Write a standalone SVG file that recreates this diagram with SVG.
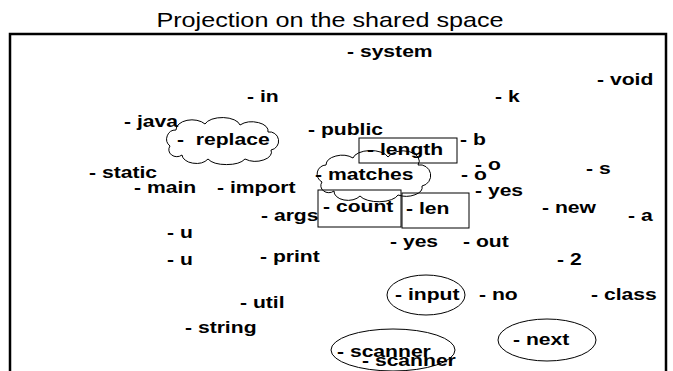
<svg xmlns="http://www.w3.org/2000/svg" width="673" height="371" viewBox="0 0 673 371">
<style>
.t{font-family:"Liberation Sans",Arial,sans-serif;font-weight:bold;font-size:16.5px;fill:#000}
.title{font-family:"Liberation Sans",Arial,sans-serif;font-size:20px;fill:#000}
.sh{fill:none;stroke:#000;stroke-width:1}
</style>
<rect width="673" height="371" fill="#fff"/>
<text class="title" transform="translate(330,27) scale(1.26,1)" text-anchor="middle">Projection on the shared space</text>
<path d="M10,371 V34 H666 V371" fill="none" stroke="#000" stroke-width="2.5"/>
<g id="connectors"/>
<g id="n-system"><text class="t" transform="translate(347,57) scale(1.28,1)">- system</text></g>
<g id="n-void"><text class="t" transform="translate(597,85) scale(1.28,1)">- void</text></g>
<g id="n-in"><text class="t" transform="translate(247,102) scale(1.28,1)">- in</text></g>
<g id="n-k"><text class="t" transform="translate(495,102) scale(1.28,1)">- k</text></g>
<g id="n-java"><text class="t" transform="translate(124,127) scale(1.28,1)">- java</text></g>
<g id="n-replace"><path class="sh" d="M170,146 A9,9 0 0 1 176,130 A16,10 0 0 1 205,124 A18,9 0 0 1 240,125 A16,9 0 0 1 268,132 A9,9 0 0 1 271,150 A16,9 0 0 1 245,159 A20,9 0 0 1 208,159 A14,9 0 0 1 182,155 A8,7 0 0 1 170,146 Z"/><text class="t" transform="translate(177,145) scale(1.28,1)" xml:space="preserve">-  replace</text></g>
<g id="n-public"><text class="t" transform="translate(308,135) scale(1.28,1)">- public</text></g>
<g id="n-length"><rect class="sh" x="359" y="138" width="98" height="25"/><text class="t" transform="translate(367,155) scale(1.28,1)">- length</text></g>
<g id="n-b"><text class="t" transform="translate(460,145) scale(1.28,1)">- b</text></g>
<g id="n-o1"><text class="t" transform="translate(475,170) scale(1.28,1)">- o</text></g>
<g id="n-o2"><text class="t" transform="translate(461,180) scale(1.28,1)">- o</text></g>
<g id="n-s"><text class="t" transform="translate(586,174) scale(1.28,1)">- s</text></g>
<g id="n-static"><text class="t" transform="translate(89,178) scale(1.28,1)">- static</text></g>
<g id="n-matches"><path class="sh" d="M322,182 A9,9 0 0 1 326,165 A16,10 0 0 1 353,158 A18,9 0 0 1 388,157 A16,10 0 0 1 418,165 A10,10 0 0 1 422,186 A16,9 0 0 1 398,195 A20,9 0 0 1 360,196 A14,9 0 0 1 334,191 A8,7 0 0 1 322,182 Z"/><text class="t" transform="translate(315,180) scale(1.28,1)">- matches</text></g>
<g id="n-yes1"><text class="t" transform="translate(475,196) scale(1.28,1)">- yes</text></g>
<g id="n-main"><text class="t" transform="translate(134,193) scale(1.28,1)">- main</text></g>
<g id="n-import"><text class="t" transform="translate(217,193) scale(1.28,1)">- import</text></g>
<g id="n-count"><rect class="sh" x="318" y="190" width="83" height="37"/><text class="t" transform="translate(323,212) scale(1.28,1)">- count</text></g>
<g id="n-len"><rect class="sh" x="402" y="193" width="67" height="35"/><text class="t" transform="translate(406,214) scale(1.28,1)">- len</text></g>
<g id="n-args"><text class="t" transform="translate(261,221) scale(1.28,1)">- args</text></g>
<g id="n-new"><text class="t" transform="translate(542,213) scale(1.28,1)">- new</text></g>
<g id="n-a"><text class="t" transform="translate(628,221) scale(1.28,1)">- a</text></g>
<g id="n-u1"><text class="t" transform="translate(167,238) scale(1.28,1)">- u</text></g>
<g id="n-yes2"><text class="t" transform="translate(390,247) scale(1.28,1)">- yes</text></g>
<g id="n-out"><text class="t" transform="translate(463,247) scale(1.28,1)">- out</text></g>
<g id="n-u2"><text class="t" transform="translate(167,265) scale(1.28,1)">- u</text></g>
<g id="n-print"><text class="t" transform="translate(260,262) scale(1.28,1)">- print</text></g>
<g id="n-2"><text class="t" transform="translate(557,265) scale(1.28,1)">- 2</text></g>
<g id="n-input"><ellipse class="sh" cx="426" cy="295" rx="39" ry="20"/><text class="t" transform="translate(395,300) scale(1.28,1)">- input</text></g>
<g id="n-no"><text class="t" transform="translate(479,300) scale(1.28,1)">- no</text></g>
<g id="n-class"><text class="t" transform="translate(591,300) scale(1.28,1)">- class</text></g>
<g id="n-util"><text class="t" transform="translate(240,308) scale(1.28,1)">- util</text></g>
<g id="n-string"><text class="t" transform="translate(185,333) scale(1.28,1)">- string</text></g>
<g id="n-next"><ellipse class="sh" cx="547" cy="340" rx="49" ry="21"/><text class="t" transform="translate(513,345) scale(1.28,1)">- next</text></g>
<g id="n-scanner"><ellipse class="sh" cx="393" cy="350" rx="62" ry="21"/><text class="t" transform="translate(337,357) scale(1.28,1)">- scanner</text><text class="t" transform="translate(362,366) scale(1.28,1)">- scanner</text></g>
</svg>
